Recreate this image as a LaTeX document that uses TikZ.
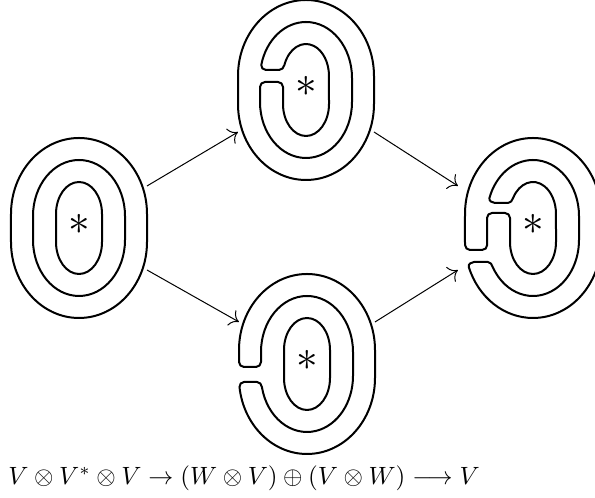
\documentclass[tikz,border=0pt]{standalone}
\usepackage{amsmath}
\usetikzlibrary{arrows.meta}
\tikzset{
	loopline/.style={
			line width=0.8pt,
			line join=round
		},
	maparrow/.style={
			line width=0.4pt,
			-{To[length=3.5pt, width=7pt]}
		},
	slotnode/.style={
			draw=none,
			rectangle,
			inner sep=0pt,
			outer sep=0pt,
			minimum width=54.4pt,
			minimum height=33.6pt
		},
	starnode/.style={
			inner sep=0pt,
			font=\LARGE
		}
}

\begin{document}
\begin{tikzpicture}[x=0.4pt, y=0.4pt]
\useasboundingbox (0,0) rectangle (595,498);
    \node[slotnode] (L) at (79,270) {};
    \node[slotnode] (T) at (306,408) {};
    \node[slotnode] (B) at (307,134) {};
    \node[slotnode, minimum width=60pt] (R) at (533,270) {};

    \begin{scope}[shift={(L)}]
        \draw[loopline] (-68,-14) -- (-68,14) arc[start angle=180, end angle=0, x radius=68, y radius=76]
            -- (68,-14) arc[start angle=0, end angle=-180, x radius=68, y radius=76] -- cycle;
        \draw[loopline] (-46,-12) -- (-46,12) arc[start angle=180, end angle=0, x radius=46, y radius=56]
            -- (46,-12) arc[start angle=0, end angle=-180, x radius=46, y radius=56] -- cycle;
        \draw[loopline] (-23,-14) -- (-23,14) arc[start angle=180, end angle=0, x radius=23, y radius=32]
            -- (23,-14) arc[start angle=0, end angle=-180, x radius=23, y radius=32] -- cycle;
        \node[starnode] (sL) at (0,4) {$\ast$};
    \end{scope}

    \begin{scope}[shift={(T)}]
        \draw[loopline] (-68,-14) -- (-68,14) arc[start angle=180, end angle=0, x radius=68, y radius=76]
            -- (68,-14) arc[start angle=0, end angle=-180, x radius=68, y radius=76] -- cycle;
        \draw[loopline] (-46,3) -- (-46,-12) arc[start angle=180, end angle=360, x radius=46, y radius=56]
            -- (46,12) arc[start angle=0, end angle=166.58, x radius=46, y radius=56]
            to[out=-101, in=180] (-40,20) -- (-27,20) to[out=0, in=255] (-21.6,25)
            arc[start angle=159.89, end angle=0, x radius=23, y radius=32]
            -- (23,-14) arc[start angle=0, end angle=-180, x radius=23, y radius=32]
            -- (-23,3) to[out=90, in=0] (-28,8) -- (-41,8) to[out=180, in=90] (-46,3) -- cycle;
        \node[starnode] (sT) at (0,4) {$\ast$};
    \end{scope}

    \begin{scope}[shift={(B)}]
        \draw[loopline] (-68,2) -- (-68,14) arc[start angle=180, end angle=0, x radius=68, y radius=76]
            -- (68,-14) arc[start angle=0, end angle=-173.2, x radius=68, y radius=76]
            to[out=96, in=180] (-63,-18) -- (-50,-18) to[out=0, in=99] (-45.1,-23)
            arc[start angle=191.33, end angle=360, x radius=46, y radius=56]
            -- (46,12) arc[start angle=0, end angle=180, x radius=46, y radius=56]
            -- (-46,2) to[out=-90, in=0] (-51,-3) -- (-63,-3) to[out=180, in=-90] (-68,2) -- cycle;
        \draw[loopline] (-23,-14) -- (-23,14) arc[start angle=180, end angle=0, x radius=23, y radius=32]
            -- (23,-14) arc[start angle=0, end angle=-180, x radius=23, y radius=32] -- cycle;
        \node[starnode] (sB) at (0,4) {$\ast$};
    \end{scope}

    \begin{scope}[shift={(R)}]
        \draw[loopline] (-67.95,-17) arc[start angle=182.26, end angle=180, x radius=68, y radius=76]
            -- (-68,14) arc[start angle=180, end angle=0, x radius=68, y radius=76]
            -- (68,-14) arc[start angle=0, end angle=-160.8, x radius=68, y radius=76]
            to[out=107, in=180] (-59,-34) -- (-45,-34) to[out=0, in=114] (-40.3,-39)
            arc[start angle=208.82, end angle=360, x radius=46, y radius=56]
            -- (46,12) arc[start angle=0, end angle=161.25, x radius=46, y radius=56]
            to[out=-106, in=180] (-38,25) -- (-25,25) to[out=0, in=248] (-19.92,30)
            arc[start angle=150, end angle=0, x radius=23, y radius=32]
            -- (23,-14) arc[start angle=0, end angle=-180, x radius=23, y radius=32]
            -- (-23,10) to[out=90, in=0] (-28,15) -- (-41,15) to[out=180, in=90] (-46,10)
            -- (-46,-12) arc[start angle=180, end angle=185.12, x radius=46, y radius=56]
            to[out=-86, in=0] (-51,-22) -- (-63,-22) to[out=180, in=-88] (-67.95,-17) -- cycle;
        \node[starnode] (sR) at (0,4) {$\ast$};
    \end{scope}

    \draw[maparrow] (L.north east) -- (T.south west);
    \draw[maparrow] (L.south east) -- (B.north west);
    \draw[maparrow] (T.south east) -- (R.north west);
    \draw[maparrow] (B.north east) -- (R.south west);

    \node[anchor=base west, inner sep=0pt] (seq) at (8,13)
        {$V \otimes V^* \otimes V \to (W \otimes V) \oplus (V \otimes W) \longrightarrow V$};
\end{tikzpicture}
\end{document}
